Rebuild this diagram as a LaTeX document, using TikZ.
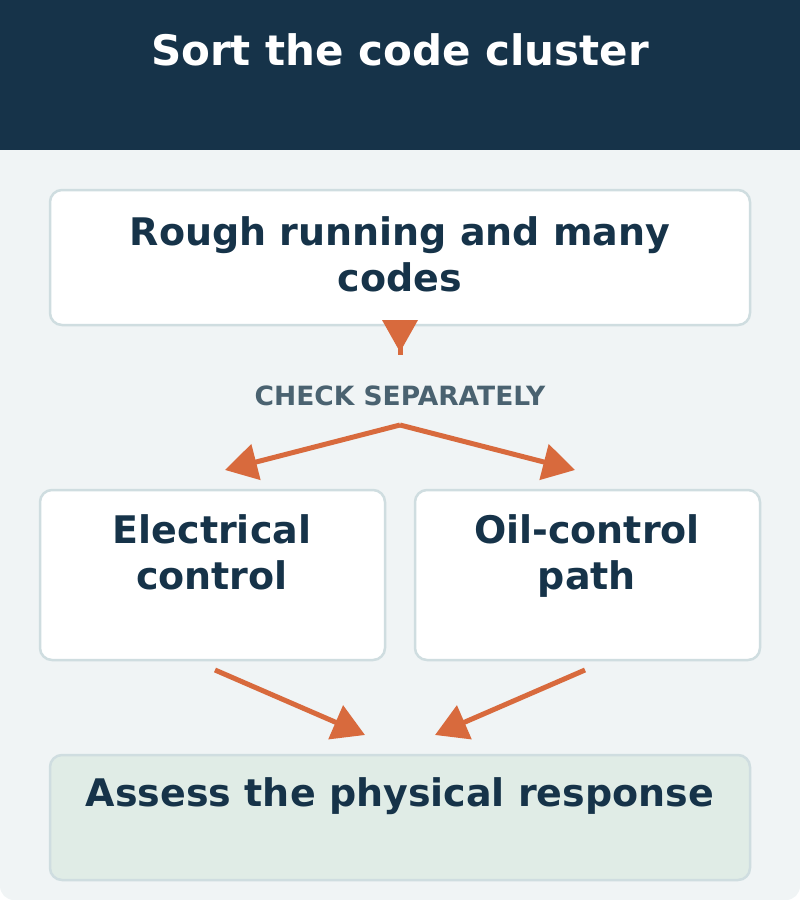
\documentclass[tikz,border=0pt]{standalone}
\usepackage{fontspec}
\setmainfont{DejaVu Sans}
\usetikzlibrary{arrows.meta}
\definecolor{navy}{HTML}{163349}
\definecolor{bg}{HTML}{F0F4F5}
\definecolor{bord}{HTML}{CFDDE0}
\definecolor{org}{HTML}{D86A3D}
\definecolor{gry}{HTML}{4A6270}
\definecolor{grn}{HTML}{E0ECE6}
\begin{document}
\begin{tikzpicture}[x=1pt,y=-1pt,
 box/.style={draw=bord,line width=2.5pt,rounded corners=12pt},
 txt/.style={text=navy,font=\fontsize{38}{46}\selectfont\bfseries,align=center},
 arr/.style={draw=org,line width=5pt,-{Triangle[length=32pt,width=36pt]}}]
\useasboundingbox (0,0) rectangle (800,900);
\fill[bg,rounded corners=14pt] (0,100) rectangle (800,900);
\fill[bg] (0,100) rectangle (800,200);
\fill[navy] (0,0) rectangle (800,150);
\node[text=white,font=\fontsize{42}{48}\selectfont\bfseries] (title) at (400,50) {Sort the code cluster};
\draw[box,fill=white] (50,190) rectangle (750,325);
\node[txt] (b1) at (400,254) {Rough running and many\\codes};
\draw[box,fill=white] (40,490) rectangle (385,660);
\node[txt,anchor=north] (b2) at (212,511) {Electrical\\control};
\draw[box,fill=white] (415,490) rectangle (760,660);
\node[txt,anchor=north] (b3) at (587,511) {Oil-control\\path};
\draw[box,fill=grn] (50,755) rectangle (750,880);
\node[txt] (b4) at (400,796) {Assess the physical response};
\node[text=gry,font=\fontsize{26.5}{30}\selectfont\bfseries] (chk) at (400,396) {CHECK SEPARATELY};
\draw[org,line width=5pt] (400,330)--(400,355);
\fill[org] (382,320)--(418,320)--(400,352)--cycle;
\coordinate (s) at (400,425);
\coordinate (l) at (225,470); \coordinate (r) at (575,470);
\draw[arr] (s)--(l); \draw[arr] (s)--(r);
\coordinate (l0) at (215,670); \coordinate (l1) at (365,735);
\coordinate (r0) at (585,670); \coordinate (r1) at (435,735);
\draw[arr] (l0)--(l1); \draw[arr] (r0)--(r1);
\end{tikzpicture}
\end{document}
